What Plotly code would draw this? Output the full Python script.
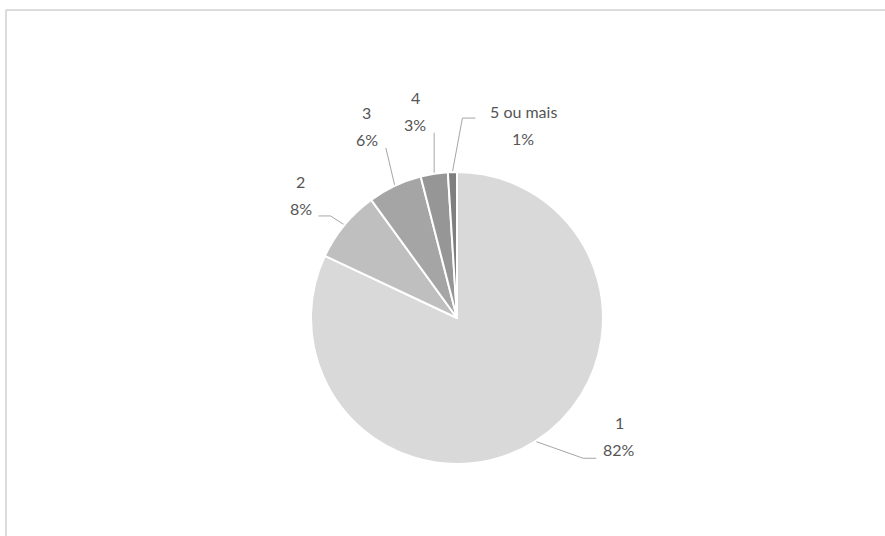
import math
import plotly.graph_objects as go

# ---- data ----
categories = ["1", "2", "3", "4", "5 ou mais"]
values = [82, 8, 6, 3, 1]

# ---- styles ----
colors = ["#d9d9d9", "#bfbfbf", "#a5a5a5", "#969696", "#7f7f7f"]
W, H = 885, 536
CX, CY, R = 457, 318, 146          # pie centre / radius in pixels
TEXT_COLOR = "#555555"
FONT = "Lato"
LINE_GAP = 27
# leader-line geometry per label, relative to the slice's mid-perimeter point:
# (elbow dx, dy), (end dx, dy), (text-centre dx, dy)
leader_style = [
    ((48, 17), (61, 17), (84, -5)),
    ((-14, -9), (-26, -9), (-44, -30)),
    ((-9, -38), (-9, -38), (-28, -60)),
    ((0, -41), (0, -41), (-19, -63)),
    ((10, -54), (23, -54), (71, -47)),
]

fig = go.Figure()

fig.add_trace(go.Pie(
    labels=categories, values=values, sort=False, direction="clockwise",
    rotation=0,
    marker=dict(colors=colors, line=dict(color="white", width=2)),
    textinfo="none", hoverinfo="label+percent", showlegend=False,
    domain=dict(x=[(CX - R) / W, (CX + R) / W],
                y=[1 - (CY + R) / H, 1 - (CY - R) / H]),
))

total = sum(values)
cum = 0
annotations = []
for i, (cat, v) in enumerate(zip(categories, values)):
    mid = (cum + v / 2) / total * 2 * math.pi
    cum += v
    px = CX + R * math.sin(mid)
    py = CY - R * math.cos(mid)
    (ex, ey), (nx, ny), (tx, ty) = leader_style[i]
    fig.add_trace(go.Scatter(
        x=[px, px + ex, px + nx], y=[py, py + ey, py + ny],
        mode="lines", line=dict(color="#a6a6a6", width=1),
        hoverinfo="skip", showlegend=False, xaxis="x", yaxis="y"))
    pct = round(v / total * 100)
    for txt, off in ((cat, -LINE_GAP / 2), (f"{pct}%", LINE_GAP / 2)):
        annotations.append(dict(
            x=px + tx, y=py + ty + off, xref="x", yref="y",
            text=txt, showarrow=False,
            font=dict(family=FONT, size=16, color=TEXT_COLOR),
            xanchor="center", yanchor="middle"))

fig.update_layout(
    width=W, height=H,
    margin=dict(l=0, r=0, t=0, b=0),
    paper_bgcolor="white", plot_bgcolor="rgba(0,0,0,0)",
    xaxis=dict(range=[0, W], visible=False, fixedrange=True),
    yaxis=dict(range=[H, 0], visible=False, fixedrange=True),
    annotations=annotations,
    shapes=[
        dict(type="line", xref="paper", yref="paper", x0=6 / W, y0=1 - 10 / H, x1=1, y1=1 - 10 / H,
             line=dict(color="#d0d0d0", width=1.5), layer="below"),
        dict(type="line", xref="paper", yref="paper", x0=6 / W, y0=1 - 10 / H, x1=6 / W, y1=0,
             line=dict(color="#d0d0d0", width=1.5), layer="below"),
    ],
)

fig.write_html("out.html")
